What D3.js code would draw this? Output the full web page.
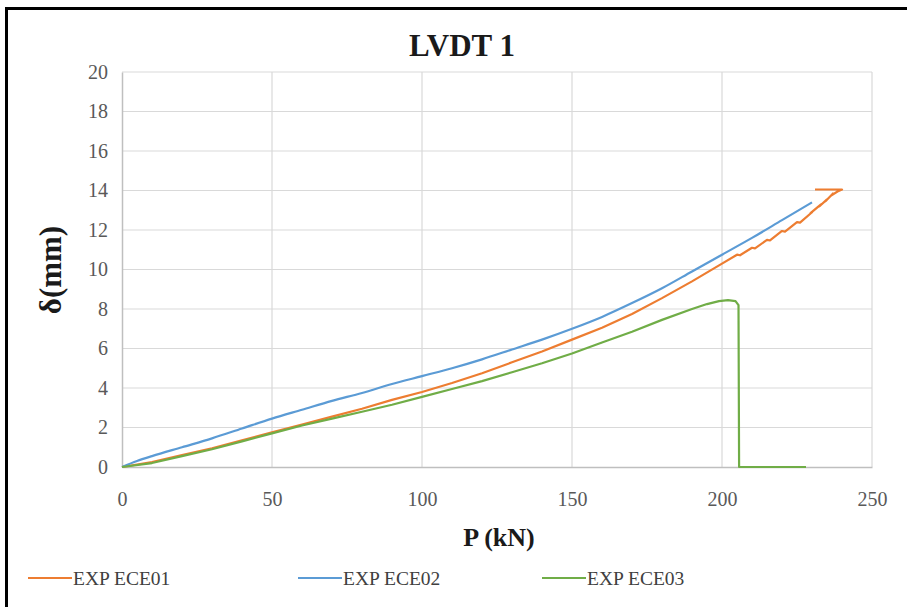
<!DOCTYPE html>
<html>
<head>
<meta charset="utf-8">
<script src="https://cdn.jsdelivr.net/npm/d3@7"></script>
<style>
  html, body { margin: 0; padding: 0; background: #fff; }
  svg { display: block; }
</style>
</head>
<body>
<svg id="chart" width="907" height="607"></svg>
<script>
// Load P (kN) against displacement δ (mm), LVDT 1
const seriesNames = ["EXP ECE01", "EXP ECE02", "EXP ECE03"];
const seriesColors = ["#ED7D31", "#5B9BD5", "#70AD47"];

const ece01P = [0, 10, 20, 30, 40, 50, 60, 70, 80, 90, 100, 110, 120, 130, 140, 150, 160, 170, 180, 190, 200,
  205, 206, 210, 211, 215, 216, 220, 221, 225, 226, 230, 229.5, 233, 232.5, 235, 234.5, 237, 236.5, 238.5, 240, 231];
const ece01D = [0, 0.25, 0.6, 0.95, 1.35, 1.75, 2.15, 2.55, 2.95, 3.4, 3.8, 4.25, 4.75, 5.3, 5.85, 6.45, 7.05, 7.75, 8.55, 9.4, 10.3,
  10.75, 10.72, 11.1, 11.07, 11.5, 11.47, 11.95, 11.92, 12.4, 12.37, 12.9, 12.85, 13.3, 13.2, 13.55, 13.45, 13.85, 13.75, 13.95, 14.05, 14.05];

const ece02P = [0, 5, 10, 20, 30, 40, 50, 60, 70, 80, 90, 100, 110, 120, 130, 140, 150, 160, 170, 180, 190, 200, 210, 220, 230];
const ece02D = [0, 0.3, 0.55, 1.0, 1.45, 1.95, 2.45, 2.9, 3.35, 3.75, 4.2, 4.6, 5.0, 5.45, 5.95, 6.45, 7.0, 7.6, 8.3, 9.05, 9.9, 10.75, 11.6, 12.5, 13.4];

const ece03P = [0, 10, 20, 30, 40, 50, 60, 70, 80, 90, 100, 110, 120, 130, 140, 150, 160, 170, 180, 190, 195, 199, 202, 204.5, 205.5, 205.7, 228];
const ece03D = [0, 0.2, 0.55, 0.9, 1.3, 1.7, 2.1, 2.45, 2.8, 3.15, 3.55, 3.95, 4.35, 4.8, 5.25, 5.75, 6.3, 6.85, 7.45, 8.0, 8.25, 8.4, 8.45, 8.4, 8.2, 0, 0];

const xTicks = [0, 50, 100, 150, 200, 250];
const yTicks = [0, 2, 4, 6, 8, 10, 12, 14, 16, 18, 20];

const series = [
  { name: seriesNames[0], color: seriesColors[0], curve: d3.curveLinear, pts: ece01P.map((p, i) => [p, ece01D[i]]) },
  { name: seriesNames[1], color: seriesColors[1], curve: d3.curveMonotoneX, pts: ece02P.map((p, i) => [p, ece02D[i]]) },
  { name: seriesNames[2], color: seriesColors[2], curve: d3.curveLinear, pts: ece03P.map((p, i) => [p, ece03D[i]]) }
];

const FONT = "'Liberation Serif', 'Times New Roman', 'DejaVu Serif', serif";

const svg = d3.select("#chart");
const plot = { left: 122, top: 72, right: 872, bottom: 467 };

const x = d3.scaleLinear().domain([0, 250]).range([plot.left, plot.right]);
const y = d3.scaleLinear().domain([0, 20]).range([plot.bottom, plot.top]);

// outer frame (top and left edges)
svg.append("line").attr("x1", 5).attr("x2", 907).attr("y1", 8.5).attr("y2", 8.5)
  .attr("stroke", "#000").attr("stroke-width", 3);
svg.append("line").attr("x1", 6.5).attr("x2", 6.5).attr("y1", 7).attr("y2", 607)
  .attr("stroke", "#000").attr("stroke-width", 3);

// gridlines
const grid = svg.append("g");
grid.selectAll("line.h").data(yTicks.filter(d => d > 0)).join("line")
  .attr("x1", plot.left).attr("x2", plot.right)
  .attr("y1", d => y(d)).attr("y2", d => y(d))
  .attr("stroke", "#d9d9d9").attr("stroke-width", 1.2);
grid.selectAll("line.v").data(xTicks.filter(d => d > 0)).join("line")
  .attr("y1", plot.top).attr("y2", plot.bottom)
  .attr("x1", d => x(d)).attr("x2", d => x(d))
  .attr("stroke", "#d9d9d9").attr("stroke-width", 1.2);

// axes
const xAxis = svg.append("g").attr("transform", `translate(0,${plot.bottom})`)
  .call(d3.axisBottom(x).tickValues(xTicks).tickSize(0).tickPadding(25));
const yAxis = svg.append("g").attr("transform", `translate(${plot.left},0)`)
  .call(d3.axisLeft(y).tickValues(yTicks).tickSize(0).tickPadding(14));
[xAxis, yAxis].forEach(a => {
  a.attr("font-family", null).attr("font-size", null);
  a.select(".domain").attr("stroke", "#bfbfbf").attr("stroke-width", 1.5);
  a.selectAll("text").style("font-family", FONT)
    .style("font-size", "20px").attr("fill", "#595959");
});

// curves
svg.append("g").selectAll("path").data(series).join("path")
  .attr("d", d => d3.line().curve(d.curve).x(p => x(p[0])).y(p => y(p[1]))(d.pts))
  .attr("fill", "none")
  .attr("stroke", d => d.color)
  .attr("stroke-width", 2.2)
  .attr("stroke-linejoin", "round");

// titles
svg.append("text").attr("x", 462).attr("y", 56).attr("text-anchor", "middle")
  .style("font-family", FONT).style("font-size", "31px").style("font-weight", "bold")
  .attr("fill", "#1a1a1a").text("LVDT 1");
svg.append("text").attr("x", 499).attr("y", 546).attr("text-anchor", "middle")
  .style("font-family", FONT).style("font-size", "26px").style("font-weight", "bold")
  .attr("fill", "#1a1a1a").text("P (kN)");
svg.append("text").attr("transform", "translate(61,270) rotate(-90)").attr("text-anchor", "middle")
  .style("font-family", FONT).style("font-size", "31px").style("font-weight", "bold")
  .attr("fill", "#1a1a1a").text("δ(mm)");

// legend
const legendX = [28, 298, 542];
const legend = svg.append("g").selectAll("g").data(series).join("g")
  .attr("transform", (d, i) => `translate(${legendX[i]},578)`);
legend.append("line").attr("x1", 0).attr("x2", 44).attr("y1", 0).attr("y2", 0)
  .attr("stroke", d => d.color).attr("stroke-width", 2.2);
legend.append("text").attr("x", 45).attr("y", 7)
  .style("font-family", FONT).style("font-size", "19.5px").attr("fill", "#404040")
  .text(d => d.name);
</script>
</body>
</html>
